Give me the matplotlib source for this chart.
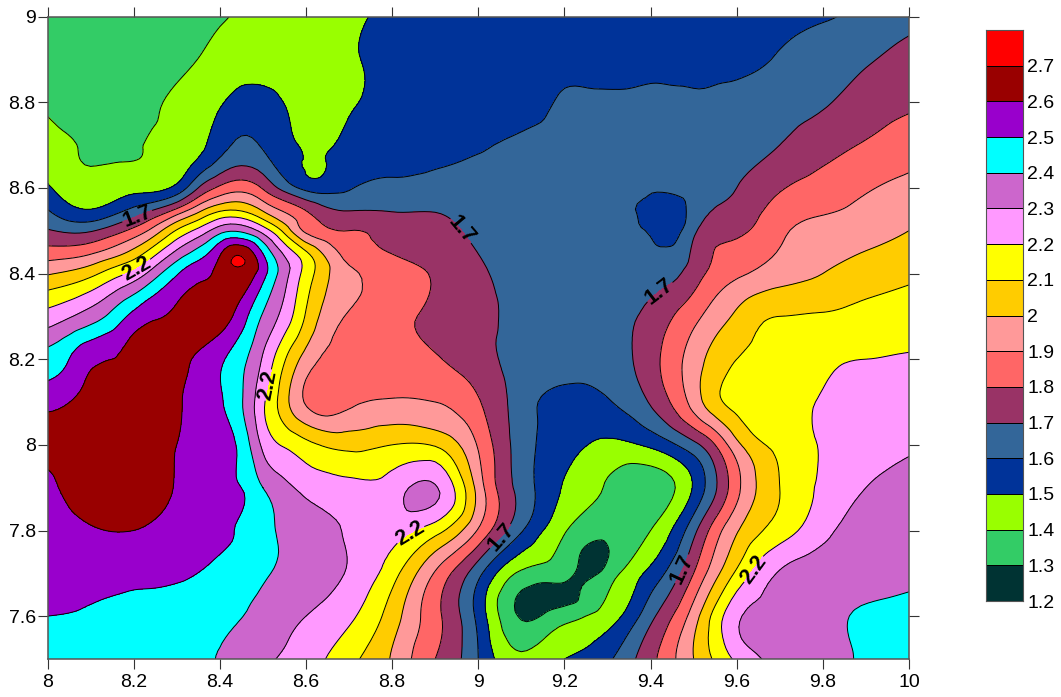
import numpy as np
import matplotlib
matplotlib.use('Agg')
import matplotlib.pyplot as plt
import matplotlib.tri as tri
from matplotlib.colors import ListedColormap, BoundaryNorm

plt.rcParams['font.family'] = ['Liberation Sans', 'DejaVu Sans']

# values, one row per y, top row first
xs = [8.0, 8.1, 8.2, 8.3, 8.4, 8.5, 8.6, 8.7, 8.8, 8.9, 9.0, 9.1, 9.2, 9.3, 9.4, 9.5, 9.6, 9.7, 9.8, 9.9, 10.0]
ys = [9.0, 8.9, 8.8, 8.7, 8.6, 8.5, 8.4, 8.3, 8.2, 8.1, 8.0, 7.9, 7.8, 7.7, 7.6, 7.5]
z_rows = [
    [1.35, 1.33, 1.33, 1.35, 1.39, 1.43, 1.45, 1.48, 1.52, 1.54, 1.55, 1.55, 1.55, 1.55, 1.55, 1.55, 1.56, 1.58, 1.59, 1.63, 1.67],
    [1.32, 1.31, 1.32, 1.37, 1.43, 1.46, 1.47, 1.49, 1.53, 1.56, 1.57, 1.57, 1.57, 1.57, 1.57, 1.57, 1.57, 1.61, 1.65, 1.69, 1.73],
    [1.38, 1.34, 1.35, 1.42, 1.49, 1.53, 1.47, 1.49, 1.52, 1.54, 1.55, 1.56, 1.61, 1.61, 1.615, 1.61, 1.63, 1.66, 1.69, 1.74, 1.78],
    [1.43, 1.39, 1.39, 1.44, 1.56, 1.59, 1.49, 1.52, 1.55, 1.57, 1.59, 1.62, 1.63, 1.63, 1.63, 1.63, 1.65, 1.70, 1.76, 1.81, 1.86],
    [1.51, 1.44, 1.47, 1.53, 1.82, 1.79, 1.57, 1.59, 1.62, 1.63, 1.63, 1.64, 1.64, 1.62, 1.62, 1.65, 1.70, 1.79, 1.84, 1.89, 1.92],
    [1.71, 1.69, 1.83, 2.11, 2.36, 2.26, 1.88, 1.80, 1.76, 1.74, 1.67, 1.64, 1.63, 1.65, 1.58, 1.68, 1.78, 1.88, 1.93, 1.96, 2.00],
    [1.99, 2.07, 2.23, 2.49, 2.63, 2.54, 2.16, 1.92, 1.85, 1.79, 1.72, 1.66, 1.65, 1.65, 1.65, 1.75, 1.88, 1.95, 2.00, 2.05, 2.08],
    [2.24, 2.35, 2.53, 2.62, 2.64, 2.39, 2.09, 1.89, 1.83, 1.78, 1.73, 1.67, 1.65, 1.66, 1.73, 1.87, 2.02, 2.10, 2.11, 2.13, 2.15],
    [2.44, 2.58, 2.64, 2.63, 2.52, 2.29, 1.96, 1.86, 1.85, 1.81, 1.74, 1.67, 1.66, 1.66, 1.76, 1.95, 2.10, 2.13, 2.18, 2.20, 2.21],
    [2.57, 2.66, 2.65, 2.61, 2.51, 2.22, 1.89, 1.88, 1.91, 1.90, 1.81, 1.65, 1.56, 1.59, 1.71, 1.94, 2.13, 2.18, 2.205, 2.24, 2.27],
    [2.63, 2.64, 2.64, 2.60, 2.53, 2.28, 2.13, 2.07, 2.10, 2.09, 1.89, 1.65, 1.54, 1.48, 1.52, 1.67, 1.97, 2.13, 2.21, 2.26, 2.29],
    [2.58, 2.64, 2.65, 2.59, 2.51, 2.40, 2.27, 2.23, 2.25, 2.31, 1.96, 1.66, 1.49, 1.39, 1.34, 1.51, 1.87, 2.10, 2.22, 2.30, 2.34],
    [2.54, 2.59, 2.60, 2.56, 2.52, 2.43, 2.35, 2.29, 2.24, 2.14, 1.89, 1.61, 1.41, 1.33, 1.40, 1.67, 1.99, 2.15, 2.27, 2.35, 2.37],
    [2.52, 2.53, 2.53, 2.52, 2.47, 2.41, 2.36, 2.29, 2.14, 1.89, 1.63, 1.38, 1.33, 1.34, 1.53, 1.80, 2.12, 2.31, 2.36, 2.37, 2.38],
    [2.50, 2.49, 2.46, 2.43, 2.42, 2.37, 2.30, 2.22, 2.05, 1.83, 1.57, 1.29, 1.36, 1.45, 1.67, 1.95, 2.28, 2.33, 2.37, 2.41, 2.43],
    [2.46, 2.46, 2.45, 2.43, 2.395, 2.32, 2.25, 2.13, 1.99, 1.80, 1.60, 1.43, 1.50, 1.58, 1.77, 2.00, 2.22, 2.32, 2.37, 2.41, 2.46],
]

# more readings where the bands run close together, and small features
extra_x = [8.445, 8.12, 9.13, 9.19, 9.25, 9.42, 9.43, 9.35, 8.62,
           8.45, 8.45, 8.45, 8.45, 8.45,
           8.55, 8.55, 8.55, 8.55, 8.55, 8.55, 8.55,
           8.35, 8.35, 8.35, 8.35,
           8.25, 8.25, 8.25,
           8.15, 8.15, 8.15, 8.15,
           8.05, 8.05, 8.05,
           8.0, 8.1, 8.2, 8.3, 8.4, 8.5, 8.6, 8.7, 8.8,
           8.0, 8.1, 8.2, 8.3, 8.4, 8.5, 8.6, 8.7, 8.8, 8.9,
           8.0, 8.1, 8.2, 8.3,
           9.55, 9.55, 9.55, 9.55, 9.55, 9.6, 9.6,
           9.65, 9.65, 9.65, 9.65]
extra_y = [8.44, 8.085, 7.62, 7.66, 7.72, 8.52, 8.48, 8.5, 8.65,
           8.3, 8.2, 8.1, 8.0, 7.9,
           8.5, 8.4, 8.3, 8.2, 8.1, 8.0, 7.9,
           8.7, 8.6, 8.5, 8.4,
           8.5, 8.4, 8.3,
           8.5, 8.4, 8.3, 8.2,
           8.4, 8.3, 8.2,
           8.45, 8.45, 8.45, 8.45, 8.45, 8.45, 8.45, 8.45, 8.45,
           8.55, 8.55, 8.55, 8.55, 8.55, 8.55, 8.55, 8.55, 8.55, 8.55,
           8.65, 8.65, 8.65, 8.65,
           8.3, 8.2, 8.15, 8.1, 8.0, 8.15, 8.05,
           8.3, 8.2, 8.1, 8.05]
extra_z = [2.705, 2.69, 1.27, 1.27, 1.27, 1.52, 1.57, 1.64, 1.49,
           2.55, 2.43, 2.41, 2.47, 2.50,
           2.07, 2.34, 2.26, 2.11, 2.04, 2.19, 2.33,
           1.47, 1.70, 2.23, 2.57,
           1.95, 2.36, 2.59,
           1.75, 2.15, 2.43, 2.60,
           2.02, 2.29, 2.50,
           1.84, 1.88, 2.03, 2.32, 2.58, 2.49, 2.11, 1.86, 1.795,
           1.60, 1.50, 1.62, 1.81, 2.07, 1.98, 1.79, 1.69, 1.69, 1.69,
           1.47, 1.40, 1.41, 1.45,
           1.95, 2.04, 2.07, 2.07, 1.80, 2.13, 2.07,
           2.08, 2.12, 2.16, 2.14]

levels = [1.2, 1.3, 1.4, 1.5, 1.6, 1.7, 1.8, 1.9, 2.0, 2.1, 2.2, 2.3, 2.4, 2.5, 2.6, 2.7, 2.8]
colors = ['#003333', '#33CC66', '#99FF00', '#003399', '#336699', '#993366', '#FF6666', '#FF9999',
          '#FFCC00', '#FFFF00', '#FF99FF', '#CC66CC', '#00FFFF', '#9900CC', '#990000', '#FF0000']
bar_labels = ['1.2', '1.3', '1.4', '1.5', '1.6', '1.7', '1.8', '1.9', '2', '2.1', '2.2', '2.3', '2.4', '2.5', '2.6', '2.7']
label_levels = [1.7, 2.2]
plain_levels = [1.2, 1.3, 1.4, 1.5, 1.6, 1.8, 1.9, 2.0, 2.1, 2.3, 2.4, 2.5, 2.6, 2.7, 2.8]
label_spots = [(8.207, 8.537), (8.964, 8.503), (9.422, 8.356), (9.043, 7.795), (9.468, 7.713),
               (8.207, 8.413), (8.511, 8.140), (8.843, 7.790), (9.647, 7.703)]
xticks = [8, 8.2, 8.4, 8.6, 8.8, 9, 9.2, 9.4, 9.6, 9.8, 10]
yticks = [7.6, 7.8, 8, 8.2, 8.4, 8.6, 8.8, 9]

gx, gy = np.meshgrid(xs, ys)
px = np.concatenate([gx.ravel(), extra_x])
py = np.concatenate([gy.ravel(), extra_y])
pz = np.concatenate([np.array(z_rows).ravel(), extra_z])

# let matplotlib smooth the contours of the read values
triang = tri.Triangulation(px, py)
refiner = tri.UniformTriRefiner(triang)
fine_tri, fine_z = refiner.refine_field(pz, subdiv=3)

W, H = 1061, 697
fig = plt.figure(figsize=(W / 100, H / 100), dpi=100)
ax = fig.add_axes([47.5 / W, 1 - 659 / H, (909 - 47.5) / W, (659 - 16.5) / H])
ax.tricontourf(fine_tri, fine_z, levels=levels, colors=colors)
ax.tricontour(fine_tri, fine_z, levels=plain_levels, colors='black', linewidths=0.7)
lines = ax.tricontour(fine_tri, fine_z, levels=label_levels, colors='black', linewidths=0.7)
labs = lines.clabel(manual=label_spots, fmt='%g', fontsize=15.5, inline=True, inline_spacing=1, colors='black')
for t in labs:
    t.set_fontweight('bold')

ax.set_xlim(8, 10)
ax.set_ylim(7.5, 9)
ax.set_xticks(xticks)
ax.set_xticklabels(['8', '8.2', '8.4', '8.6', '8.8', '9', '9.2', '9.4', '9.6', '9.8', '10'])
ax.set_yticks(yticks)
ax.set_yticklabels(['7.6', '7.8', '8', '8.2', '8.4', '8.6', '8.8', '9'])
ax.tick_params(top=True, right=True, direction='out', length=7.5, width=0.8, color='#333333', labelsize=14)
ax.tick_params(axis='y', pad=1)
ax.tick_params(axis='x', pad=3)
for s in ax.spines.values():
    s.set_color('#555555')
    s.set_linewidth(1.1)

cax = fig.add_axes([986 / W, 1 - 601 / H, 37 / W, 571 / H])
cmap = ListedColormap(colors)
cax.pcolormesh([0, 1], levels, np.array(levels[:-1]).reshape(-1, 1) + 0.05, cmap=cmap,
               norm=BoundaryNorm(levels, cmap.N), edgecolors='black', linewidth=0.7)
cax.set_xticks([])
cax.yaxis.tick_right()
cax.set_yticks(levels[:-1])
cax.set_yticklabels(bar_labels)
cax.tick_params(length=0, labelsize=14, pad=3)
for s in cax.spines.values():
    s.set_color('#555555')

fig.savefig('out.png', dpi=100)
